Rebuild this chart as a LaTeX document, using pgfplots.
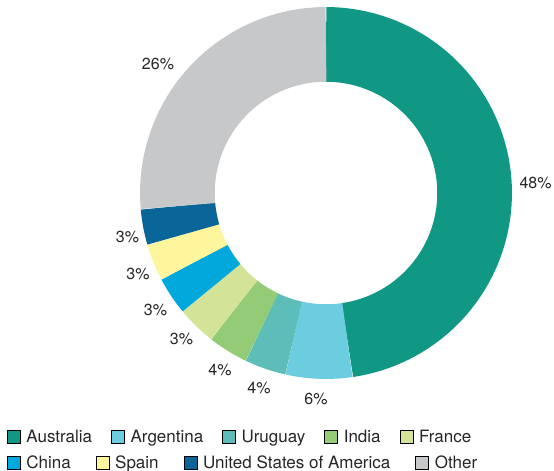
\documentclass[border=0pt]{standalone}
\usepackage{pgfplots}
\pgfplotsset{compat=1.18}
\usepackage{fontspec}
\setmainfont{TeX Gyre Heros}
\definecolor{aus}{HTML}{109885}
\definecolor{arg}{HTML}{6DCDE0}
\definecolor{uru}{HTML}{5CBDB9}
\definecolor{ind}{HTML}{93CB76}
\definecolor{fra}{HTML}{D3E397}
\definecolor{chn}{HTML}{00A8DC}
\definecolor{esp}{HTML}{FEF59C}
\definecolor{usa}{HTML}{0A6598}
\definecolor{oth}{HTML}{C7C8CA}
\definecolor{txt}{HTML}{262626}
\pgfplotsset{
  pieaxis/.style={hide axis, scale only axis, width=554bp, height=471bp,
    xmin=-326, xmax=228, ymin=-278, ymax=193, clip=false,
    legend image code/.code={\fill[##1] (0bp,-6.5bp) rectangle (13bp,6.5bp);},
    legend columns=-1, legend cell align=left,
    legend style={draw=none, fill=none, inner sep=0pt, outer sep=0pt,
      font=\fontsize{17bp}{20bp}\selectfont, text=txt, anchor=west,
      nodes={inner sep=0pt},
      /tikz/every odd column/.append style={column sep=6bp}}},
  slice/.style={line width=74.7bp, data cs=polar, forget plot, mark=none},
}
\begin{document}
\begin{tikzpicture}
% shares (%): Australia 47.7, Argentina 5.8, Uruguay 3.6, India 3.5, France 3.4,
% China 3.3, Spain 3.2, USA 3.1, Other 26.4  (clockwise from 12 o'clock)
\begin{axis}[pieaxis, name=pie,
  legend style={at={(axis description cs:0.0126,0.0722)},
    /tikz/every even column/.append style={column sep=19bp}}]
\addplot[slice, color=aus, domain=-81.72:90, samples=150] ({x},{148.6});
\addplot[slice, color=arg, domain=-102.6:-81.72, samples=30] ({x},{148.6});
\addplot[slice, color=uru, domain=-115.56:-102.6, samples=20] ({x},{148.6});
\addplot[slice, color=ind, domain=-128.16:-115.56, samples=20] ({x},{148.6});
\addplot[slice, color=fra, domain=-140.4:-128.16, samples=20] ({x},{148.6});
\addplot[slice, color=chn, domain=-152.28:-140.4, samples=20] ({x},{148.6});
\addplot[slice, color=esp, domain=-163.8:-152.28, samples=20] ({x},{148.6});
\addplot[slice, color=usa, domain=-174.96:-163.8, samples=20] ({x},{148.6});
\addplot[slice, color=oth, domain=-270:-174.96, samples=90] ({x},{148.6});
\addplot[draw=none, mark=none, forget plot, nodes near coords,
  point meta=explicit symbolic,
  nodes near coords style={anchor=center, inner sep=0pt,
    font=\fontsize{16bp}{19bp}\selectfont, text=txt}]
  coordinates {
  (209.5,10) [48\%]
  (-10,-205.5) [6\%]
  (-67,-194.5) [4\%]
  (-106,-177) [4\%]
  (-144.5,-145.5) [3\%]
  (-170.5,-117) [3\%]
  (-188,-80.5) [3\%]
  (-198.5,-43.5) [3\%]
  (-168,129.5) [26\%]
  };
\addlegendimage{fill=aus}\addlegendentry{Australia}
\addlegendimage{fill=arg}\addlegendentry{Argentina}
\addlegendimage{fill=uru}\addlegendentry{Uruguay}
\addlegendimage{fill=ind}\addlegendentry{India}
\addlegendimage{fill=fra}\addlegendentry{France}
\end{axis}
\begin{axis}[pieaxis,
  legend style={at={(axis description cs:0.0126,0.017)},
    /tikz/every even column/.append style={column sep=25bp}}]
\addlegendimage{fill=chn}\addlegendentry{China}
\addlegendimage{fill=esp}\addlegendentry{Spain}
\addlegendimage{fill=usa}\addlegendentry{United States of America}
\addlegendimage{fill=oth}\addlegendentry{Other}
\end{axis}
\pgfresetboundingbox
\path[use as bounding box] (pie.south west) rectangle (pie.north east);
\end{tikzpicture}
\end{document}
